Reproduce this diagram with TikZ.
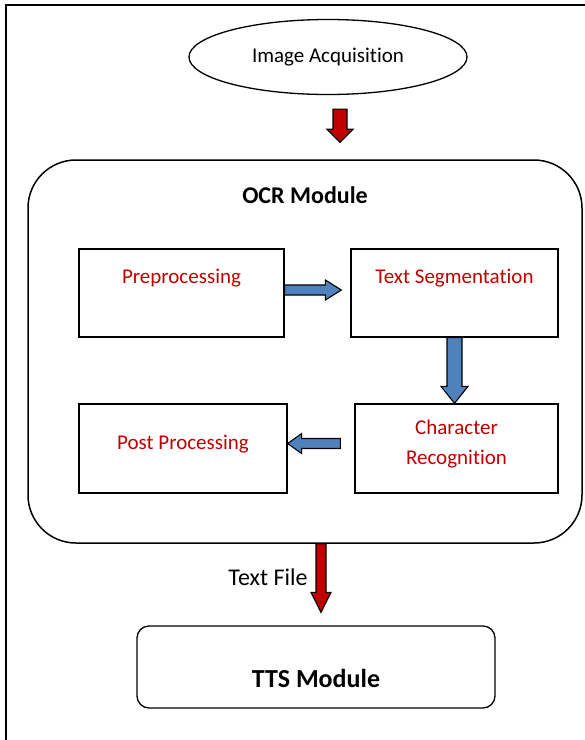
\documentclass[tikz,border=0pt]{standalone}
\usepackage{fontspec}
\setmainfont{Carlito}[Ligatures=NoCommon]
\usepackage{xcolor}
\usetikzlibrary{calc,shapes.geometric,positioning}
\definecolor{ocrred}{HTML}{C00000}
\definecolor{ocrblue}{HTML}{4F81BD}
\tikzset{
  box/.style={draw,line width=1.3pt,minimum width=205pt,minimum height=88pt,inner sep=0pt},
  stage/.style={font=\fontsize{21}{30}\selectfont,text=ocrred,align=center}, % red stage names
  title/.style={font=\fontsize{24}{28}\selectfont\bfseries},
  plain/.style={font=\fontsize{21}{25}\selectfont},
  redarr/.style={draw=black,line width=1.1pt,fill=ocrred},   % outer flow
  bluarr/.style={draw=black,line width=1.1pt,fill=ocrblue}   % inside OCR
}
% block arrow: [style]{from}{to}{shaft half}{head half}{head length}
\newcommand{\blockarrow}[6][]{%
  \coordinate (bac) at ($(#3)!#6!(#2)$);
  \draw[#1] ($(#2)!#4!90:(#3)$) -- ($(bac)!#4!90:(#3)$) -- ($(bac)!#5!90:(#3)$)
    -- (#3) -- ($(bac)!#5!-90:(#3)$) -- ($(bac)!#4!-90:(#3)$) -- ($(#2)!#4!-90:(#3)$) -- cycle;}

\begin{document}
\begin{tikzpicture}[x=1pt,y=-1pt]
  \useasboundingbox (0,0) rectangle (585,740);
  \draw[line width=1.6pt] (6,740) -- (6,5) -- (585,5);

  \node[draw,ellipse,line width=1.3pt,minimum width=278pt,minimum height=75pt,plain] (acq) at (328,57)
    {Image Acquisition};

  \node[draw,line width=1.5pt,rounded corners=48pt,minimum width=554pt,minimum height=383pt,
    label={[title,anchor=center,yshift=-36pt]north:OCR Module}] (ocr) at (305,351.5) {};

  \node[box,label={[stage,yshift=15pt]center:Preprocessing}] (pre) at (181.5,293) {};
  \node[box,minimum width=207pt,label={[stage,yshift=15pt]center:Text Segmentation}] (seg) at (454.5,293) {};
  \node[box,minimum width=203pt,minimum height=89pt,
    label={[stage,yshift=4.5pt]center:Character\\Recognition}] (chr) at (456.5,448.5) {};
  \node[box,minimum width=208pt,minimum height=89pt,
    label={[stage,yshift=4.5pt]center:Post Processing}] (post) at (183,448.5) {};

  \node[draw,line width=1.3pt,rounded corners=12pt,minimum width=358pt,minimum height=82pt,
    label={[font=\fontsize{26}{30}\selectfont\bfseries,yshift=-11pt]center:TTS Module}] (tts) at (316,667) {};
  \node[font=\fontsize{24}{28}\selectfont] (tf) at (268,577) {Text File};

  % arrows
  \coordinate (r1a) at ([xshift=12pt,yshift=-14pt]acq.south);
  \coordinate (r1b) at ([yshift=17pt]r1a |- ocr.north);
  \blockarrow[redarr]{r1a}{r1b}{7pt}{13pt}{13pt}

  \coordinate (b1a) at ([yshift=3pt]pre.east);
  \coordinate (b1b) at ([xshift=-9pt,yshift=3pt]seg.west);
  \blockarrow[bluarr]{b1a}{b1b}{5pt}{10pt}{16pt}

  \coordinate (b2b) at (seg.south |- chr.north);
  \blockarrow[bluarr]{seg.south}{b2b}{7.5pt}{13.5pt}{17pt}

  \coordinate (b3a) at ([xshift=-14pt,yshift=5pt]chr.west);
  \coordinate (b3b) at ([yshift=5pt]post.east);
  \blockarrow[bluarr]{b3a}{b3b}{5pt}{10pt}{14pt}

  \coordinate (r2a) at ([xshift=16pt]ocr.south);
  \coordinate (r2b) at ([yshift=13pt]r2a |- tts.north);
  \blockarrow[redarr]{r2a}{r2b}{5pt}{10pt}{20pt}
\end{tikzpicture}
\end{document}
